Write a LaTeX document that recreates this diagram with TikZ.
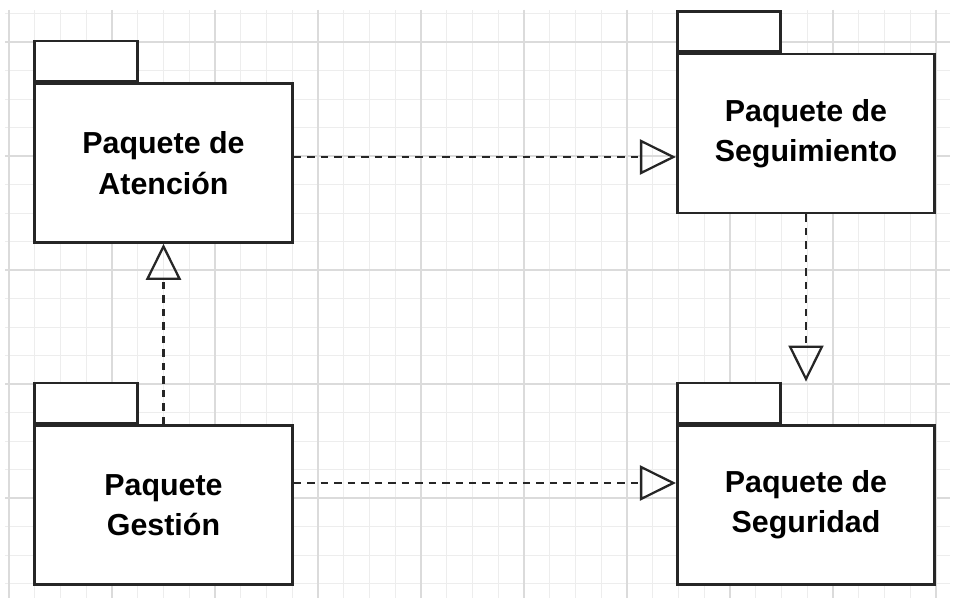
\documentclass[tikz,border=0pt]{standalone}
\usepackage{fontspec}
\setmainfont{Liberation Sans}
\usetikzlibrary{arrows.meta, positioning}
\tikzset{
    package/.style={
        rectangle,
        draw=black!85,
        line width=1.5pt,
        fill=white,
        minimum width=5.15cm,
        minimum height=3.18cm,
        align=center,
        inner sep=0pt,
        font=\fontsize{17.3}{23}\selectfont\bfseries
    },
    pktab/.style={
        rectangle,
        draw=black!85,
        line width=1.5pt,
        fill=white,
        minimum width=2.06cm,
        minimum height=0.8cm,
        inner sep=0pt
    },
    dep/.style={
        -{Triangle[open, length=0.72cm, width=0.7cm, line width=1.3pt]},
        line width=1.6pt,
        draw=black!85,
        dash pattern=on 0.15cm off 0.12cm
    },
    minorline/.style={
        draw=gray!14,
        line width=0.5pt
    },
    majorline/.style={
        draw=gray!28,
        line width=0.6pt
    }
}

\begin{document}
\begin{tikzpicture}[x=0.02cm, y=-0.02cm]

    \useasboundingbox (0,0) rectangle (958,598);

    % Grid
    \foreach \k in {0,...,36} {
        \pgfmathsetmacro{\gx}{9+25.75*\k}
        \draw[minorline] (\gx,10) -- (\gx,598);
    }
    \foreach \k in {0,...,20} {
        \pgfmathsetmacro{\gy}{13.5+28.5*\k}
        \draw[minorline] (5,\gy) -- (950,\gy);
    }
    \foreach \k in {0,...,9} {
        \pgfmathsetmacro{\gx}{9+103*\k}
        \draw[majorline] (\gx,10) -- (\gx,598);
    }
    \foreach \k in {0,...,4} {
        \pgfmathsetmacro{\gy}{42+114*\k}
        \draw[majorline] (5,\gy) -- (950,\gy);
    }

    % Packages
    \node[package] (atencion) at (163.5,163) {Paquete de\\Atención};
    \node[pktab, above right=0pt and 0pt of atencion.north west, anchor=south west] (atencionTab) {};

    \node[package] (seguimiento) at (806,133.5) {Paquete de\\Seguimiento};
    \node[pktab, above right=0pt and 0pt of seguimiento.north west, anchor=south west] (seguimientoTab) {};

    \node[package] (gestion) at (163.5,505) {Paquete\\Gestión};
    \node[pktab, above right=0pt and 0pt of gestion.north west, anchor=south west] (gestionTab) {};

    \node[package] (seguridad) at (806,505) {Paquete de\\Seguridad};
    \node[pktab, above right=0pt and 0pt of seguridad.north west, anchor=south west] (seguridadTab) {};

    % Dependencies
    \coordinate (lineAS) at (0,157);
    \coordinate (lineGS) at (0,483);
    \draw[dep] (atencion.east |- lineAS) -- (seguimiento.west |- lineAS);
    \draw[dep] (gestion.east |- lineGS) -- (seguridad.west |- lineGS);
    \draw[dep] (gestion.north) -- (atencion.south);
    \draw[dep] (seguimiento.south) -- (seguimiento.south |- seguridadTab.north);

\end{tikzpicture}
\end{document}
